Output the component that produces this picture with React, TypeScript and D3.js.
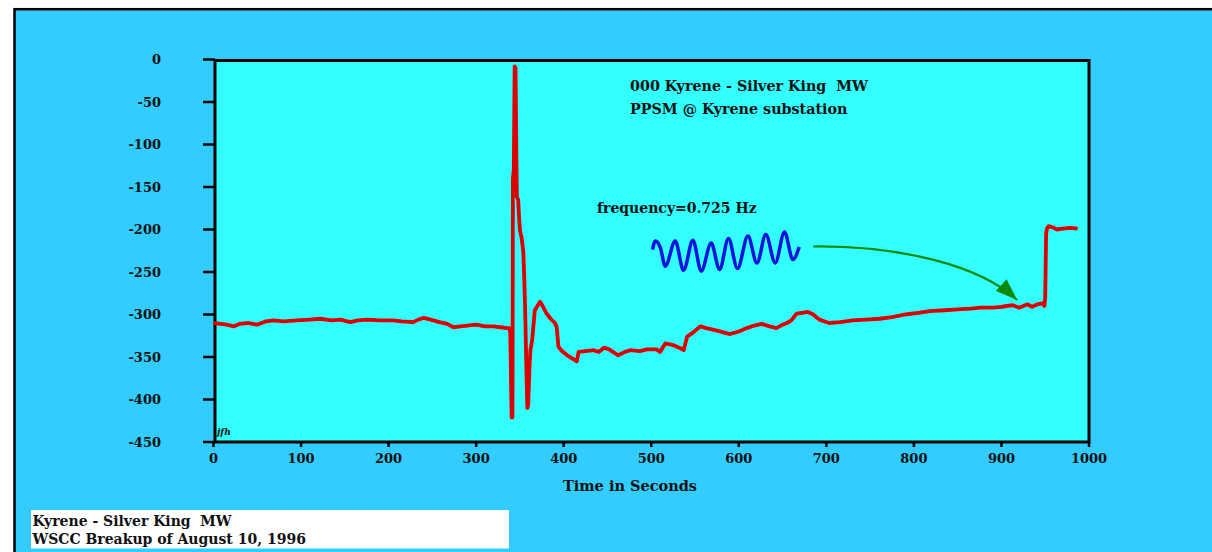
import React from "react";
import * as d3 from "d3";

// ---- data ----
const yTicks = [0, -50, -100, -150, -200, -250, -300, -350, -400, -450];
const xTicks = [0, 100, 200, 300, 400, 500, 600, 700, 800, 900, 1000];

// main trace: time (s) and MW
const times = [
  0, 8, 15, 23, 30, 40, 50, 60, 68, 80, 95, 110, 122, 135, 145, 156, 165, 175, 190, 205,
  215, 228, 234, 240, 248, 258, 267, 274, 282, 290, 300, 310, 320, 328, 335, 338, 339,
  340.5, 341.5, 342, 343, 344, 345, 346, 346.5, 348, 349, 350, 352, 354, 355, 356, 357.5,
  358.5, 359.5, 361, 362, 364, 367, 370, 373, 376, 380, 385, 390, 392, 394, 398, 404, 410,
  415, 417, 425, 434, 440, 446, 452, 462, 470, 476, 487, 495, 506, 510, 516, 525, 532, 537,
  541, 548, 556, 563, 575, 590, 600, 609, 618, 626, 635, 643, 650, 655, 660, 666, 672, 679,
  685, 692, 703, 716, 730, 745, 761, 775, 790, 805, 818, 835, 850, 865, 876, 890, 900, 906,
  913, 920, 925, 930, 935, 941, 947, 949, 950, 951, 952, 954, 960, 963, 970, 978, 987,
];
const mw = [
  -310, -311, -312, -314, -311, -310, -312, -308, -307, -308, -307, -306, -305, -307, -306,
  -309, -307, -306, -307, -307, -308, -309, -306, -304, -306, -309, -311, -315, -314, -313,
  -312, -314, -314, -315, -316, -316, -322, -421, -421, -140, -130, -8, -10, -120, -162, -165,
  -185, -201, -210, -228, -260, -295, -370, -410, -405, -360, -342, -330, -295, -290, -285,
  -290, -298, -305, -310, -315, -338, -343, -348, -352, -355, -344, -343, -342, -344, -339,
  -341, -348, -344, -342, -343, -341, -341, -344, -334, -336, -339, -342, -326, -321, -314,
  -316, -319, -323, -320, -316, -313, -311, -314, -316, -312, -310, -307, -299, -298, -297,
  -300, -306, -310, -309, -307, -306, -305, -303, -300, -298, -296, -295, -294, -293, -292,
  -292, -291, -290, -289, -292, -290, -288, -291, -288, -287, -290, -280, -205, -199, -196,
  -198, -200, -199, -198, -199,
];

// inset oscillation (plotted in the chart's own time / MW coordinates)
const insetT = [
  501.5, 504.6, 510.3, 516, 527.4, 536.9, 547.6, 557.1, 568.5, 578, 588.2, 598.5, 610.4,
  620.7, 630.9, 641.6, 652.2, 661.8, 669,
];
const insetMW = [
  -223.6, -213.5, -221, -243.2, -213.5, -248, -212.7, -249, -215.9, -247.1, -210.7, -246,
  -207.6, -239.4, -206, -239.4, -203, -235.4, -220.6,
];

// arrow annotation (time, MW): start, ctrl1, ctrl2, tip
const arrowT = [685, 784, 875.5, 918];
const arrowMW = [-220, -219, -242, -283];

const titleLines = ["000 Kyrene - Silver King  MW", "PPSM @ Kyrene substation"];
const freqLabel = "frequency=0.725 Hz";
const xAxisLabel = "Time in Seconds";
const footLines = ["Kyrene - Silver King  MW", "WSCC Breakup of August 10, 1996"];
const signature = "jfh";

const FONT = "'DejaVu Serif', serif";

export default function App() {
  const x = d3.scaleLinear().domain([0, 1000]).range([213.5, 1089]);
  const y = d3.scaleLinear().domain([-450, 0]).range([442, 59.5]);

  const pts: [number, number][] = times.map((t, i) => [t, mw[i]]);
  const line = d3
    .line<[number, number]>()
    .x((d) => x(d[0]))
    .y((d) => y(d[1]));
  const mainPath = line(pts) || "";

  const insetPts: [number, number][] = insetT.map((t, i) => [t, insetMW[i]]);
  const insetLine = d3
    .line<[number, number]>()
    .x((d) => x(d[0]))
    .y((d) => y(d[1]))
    .curve(d3.curveMonotoneX);
  const insetPath = insetLine(insetPts) || "";

  const ax = arrowT.map((t) => x(t));
  const ay = arrowMW.map((v) => y(v));
  const arrowPath = `M${ax[0]},${ay[0]} C${ax[1]},${ay[1]} ${ax[2]},${ay[2]} ${ax[3]},${ay[3]}`;

  const left = x(0) + 1.5;
  const right = x(1000);
  const top = y(0) + 1;
  const bottom = y(-450);
  const pre = { whiteSpace: "pre" as const };

  return (
    <svg
      width={1212}
      height={552}
      style={{ position: "absolute", left: 0, top: 0 }}
      fontFamily={FONT}
    >
      <defs>
        <marker
          id="ah"
          viewBox="0 0 22 16"
          refX={22}
          refY={8}
          markerWidth={22}
          markerHeight={16}
          markerUnits="userSpaceOnUse"
          orient="auto"
        >
          <path d="M0,0 L22,8 L0,16 Z" fill="#0d8a0d" />
        </marker>
      </defs>
      <rect x={0} y={0} width={1212} height={552} fill="#ffffff" />
      <rect
        x={14.5}
        y={9.2}
        width={1400}
        height={800}
        fill="#33ccff"
        stroke="#000"
        strokeWidth={2.5}
      />
      <rect
        x={left}
        y={top}
        width={right - left}
        height={bottom - top}
        fill="#33ffff"
        stroke="#000"
        strokeWidth={3}
      />
      {/* y axis */}
      {yTicks.map((v) => (
        <g key={"y" + v}>
          <line x1={203} x2={left} y1={y(v)} y2={y(v)} stroke="#000" strokeWidth={2.5} />
          <text
            x={161}
            y={y(v)}
            dy="0.36em"
            textAnchor="end"
            fontSize={13}
            fontWeight="bold"
            fill="#111"
          >
            {v}
          </text>
        </g>
      ))}
      {/* x axis */}
      {xTicks.map((v) => (
        <g key={"x" + v}>
          <line x1={x(v)} x2={x(v)} y1={bottom} y2={bottom + 5} stroke="#000" strokeWidth={2.5} />
          <text
            x={x(v)}
            y={462.5}
            textAnchor="middle"
            fontSize={13}
            fontWeight="bold"
            fill="#111"
          >
            {v}
          </text>
        </g>
      ))}
      <text x={630} y={491} textAnchor="middle" fontSize={14.5} fontWeight="bold" fill="#111">
        {xAxisLabel}
      </text>

      {/* main trace */}
      <path d={mainPath} fill="none" stroke="#dd0000" strokeWidth={3.8} strokeLinejoin="round" />

      {/* inset oscillation */}
      <path d={insetPath} fill="none" stroke="#0a14dc" strokeWidth={3.5} strokeLinejoin="round" />

      {/* arrow */}
      <path d={arrowPath} fill="none" stroke="#0d8a0d" strokeWidth={2.2} markerEnd="url(#ah)" />

      {/* annotations */}
      {titleLines.map((t, i) => (
        <text key={t} x={630} y={91 + i * 23} fontSize={14.3} fontWeight="bold" fill="#111" style={pre}>
          {t}
        </text>
      ))}
      <text x={597} y={213} fontSize={14} fontWeight="bold" fill="#111">
        {freqLabel}
      </text>
      <text x={217} y={435} fontSize={9} fontWeight="bold" fontStyle="italic" fill="#111">
        {signature}
      </text>

      {/* footer box */}
      <rect x={31} y={510} width={478} height={38.5} fill="#ffffff" />
      {footLines.map((t, i) => (
        <text key={t} x={32.5} y={526 + i * 18} fontSize={14} fontWeight="bold" fill="#111" style={pre}>
          {t}
        </text>
      ))}
    </svg>
  );
}
